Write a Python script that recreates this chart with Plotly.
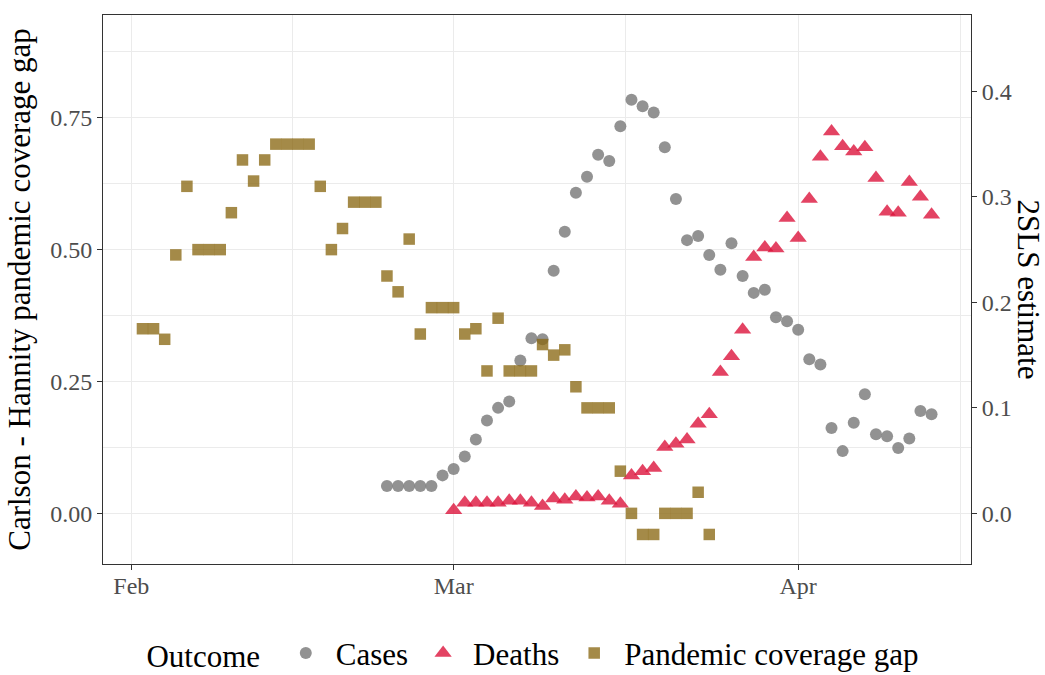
import pandas as pd
import plotly.graph_objects as go

# ---------------- data ----------------
gap_dates = [d.strftime("%Y-%m-%d") for d in pd.date_range("2020-02-02", "2020-03-24")]
gap_values = [0.35, 0.35, 0.33, 0.49, 0.62, 0.50, 0.50, 0.50, 0.57, 0.67,
              0.63, 0.67, 0.70, 0.70, 0.70, 0.70, 0.62, 0.50, 0.54, 0.59,
              0.59, 0.59, 0.45, 0.42, 0.52, 0.34, 0.39, 0.39, 0.39, 0.34,
              0.35, 0.27, 0.37, 0.27, 0.27, 0.27, 0.32, 0.30, 0.31, 0.24,
              0.20, 0.20, 0.20, 0.08, 0.00, -0.04, -0.04, 0.00, 0.00, 0.00,
              0.04, -0.04]

cases_dates = [d.strftime("%Y-%m-%d") for d in pd.date_range("2020-02-24", "2020-04-13")]
cases_values = [0.026, 0.026, 0.026, 0.026, 0.026, 0.036, 0.042, 0.054, 0.070, 0.088,
                0.100, 0.106, 0.145, 0.166, 0.165, 0.230, 0.267, 0.304, 0.319, 0.340,
                0.334, 0.367, 0.392, 0.386, 0.380, 0.347, 0.298, 0.259, 0.263, 0.245,
                0.231, 0.256, 0.225, 0.209, 0.212, 0.186, 0.182, 0.174, 0.146, 0.141,
                0.081, 0.059, 0.086, 0.113, 0.075, 0.073, 0.062, 0.071, 0.097, 0.094]

deaths_dates = [d.strftime("%Y-%m-%d") for d in pd.date_range("2020-03-01", "2020-04-13")]
deaths_values = [0.003, 0.010, 0.010, 0.010, 0.010, 0.012, 0.012, 0.010, 0.007, 0.014,
                 0.013, 0.016, 0.015, 0.016, 0.012, 0.009, 0.036, 0.040, 0.043, 0.063,
                 0.066, 0.070, 0.085, 0.094, 0.134, 0.149, 0.174, 0.243, 0.252, 0.251,
                 0.280, 0.261, 0.298, 0.338, 0.362, 0.348, 0.343, 0.347, 0.318, 0.286,
                 0.285, 0.314, 0.300, 0.283]

x_tick_vals = ["2020-02-01", "2020-03-01", "2020-04-01"]
x_tick_text = ["Feb", "Mar", "Apr"]
x_minor_vals = ["2020-02-15 12:00", "2020-03-16 12:00", "2020-04-15 14:00"]
left_ticks = [0.00, 0.25, 0.50, 0.75]
right_ticks = [0.0, 0.1, 0.2, 0.3, 0.4]

# ---------------- style ----------------
FONT = "Liberation Serif"
GRID = "#EBEBEB"
AX = "#333333"
TICKC = "#4D4D4D"
TITLE_SIZE = 31
TICK_SIZE = 24

fig = go.Figure()
fig.add_trace(go.Scatter(x=cases_dates, y=cases_values, mode="markers", name="Cases",
                         marker=dict(symbol="circle", size=12, color="rgba(127,127,127,0.85)",
                                     line=dict(width=0)),
                         yaxis="y"))
fig.add_trace(go.Scatter(x=deaths_dates, y=deaths_values, mode="markers", name="Deaths",
                         marker=dict(symbol="triangle-up", size=15, color="rgba(220,20,60,0.8)",
                                     line=dict(width=0)),
                         yaxis="y"))
fig.add_trace(go.Scatter(x=gap_dates, y=gap_values, mode="markers", name="Pandemic coverage gap",
                         marker=dict(symbol="square", size=11.5, color="rgba(139,105,20,0.78)",
                                     line=dict(width=0)),
                         yaxis="y2"))

fig.update_layout(
    width=1045, height=675,
    margin=dict(l=102.5, r=73.7, t=14.5, b=111, autoexpand=False),
    paper_bgcolor="white", plot_bgcolor="white",
    font=dict(family=FONT, color="black"),
    xaxis=dict(
        type="date", automargin=False,
        range=["2020-01-29 10:48", "2020-04-16 13:12"],
        tickmode="array", tickvals=x_tick_vals, ticktext=x_tick_text,
        ticks="outside", ticklen=5, tickwidth=1.1, tickcolor=AX,
        tickfont=dict(family=FONT, size=TICK_SIZE, color=TICKC),
        ticklabelstandoff=-5,
        showgrid=True, gridcolor=GRID, gridwidth=1.3,
        minor=dict(tickmode="array", tickvals=x_minor_vals, showgrid=True,
                   gridcolor=GRID, gridwidth=0.7, ticks=""),
        showline=True, linecolor=AX, linewidth=1.1, mirror=True,
        zeroline=False,
    ),
    yaxis=dict(
        side="right", automargin=False,
        range=[-0.048, 0.4724],
        tickmode="array", tickvals=right_ticks, tickformat=".1f",
        ticks="outside", ticklen=5, tickwidth=1.1, tickcolor=AX,
        tickfont=dict(family=FONT, size=TICK_SIZE, color=TICKC),
        showgrid=False, zeroline=False,
        showline=True, linecolor=AX, linewidth=1.1,
    ),
    yaxis2=dict(
        overlaying="y", side="left", automargin=False,
        range=[-0.096, 0.9448],
        tickmode="array", tickvals=left_ticks, tickformat=".2f",
        ticks="outside", ticklen=5, tickwidth=1.1, tickcolor=AX,
        tickfont=dict(family=FONT, size=TICK_SIZE, color=TICKC),
        showgrid=True, gridcolor=GRID, gridwidth=1.3,
        minor=dict(dtick=0.125, tick0=0, showgrid=True, gridcolor=GRID, gridwidth=0.7, ticks=""),
        zeroline=False,
        showline=True, linecolor=AX, linewidth=1.1,
        title=dict(text="Carlson - Hannity pandemic coverage gap",
                   font=dict(family=FONT, size=TITLE_SIZE, color="black"), standoff=10),
    ),
    legend=dict(
        orientation="h", x=0.497, xanchor="center",
        yref="container", y=0.032, yanchor="middle",
        itemwidth=50,
        font=dict(family=FONT, size=TITLE_SIZE, color="black"),
        title=dict(text="Outcome ", side="left", font=dict(family=FONT, size=TITLE_SIZE, color="black")),
        bgcolor="rgba(0,0,0,0)",
    ),
    annotations=[dict(
        text="2SLS estimate", textangle=90, xref="paper", yref="paper",
        x=1, y=0.5, xanchor="center", yanchor="middle", xshift=57, showarrow=False,
        font=dict(family=FONT, size=TITLE_SIZE, color="black"),
    )],
)

fig.write_html("out.html")
